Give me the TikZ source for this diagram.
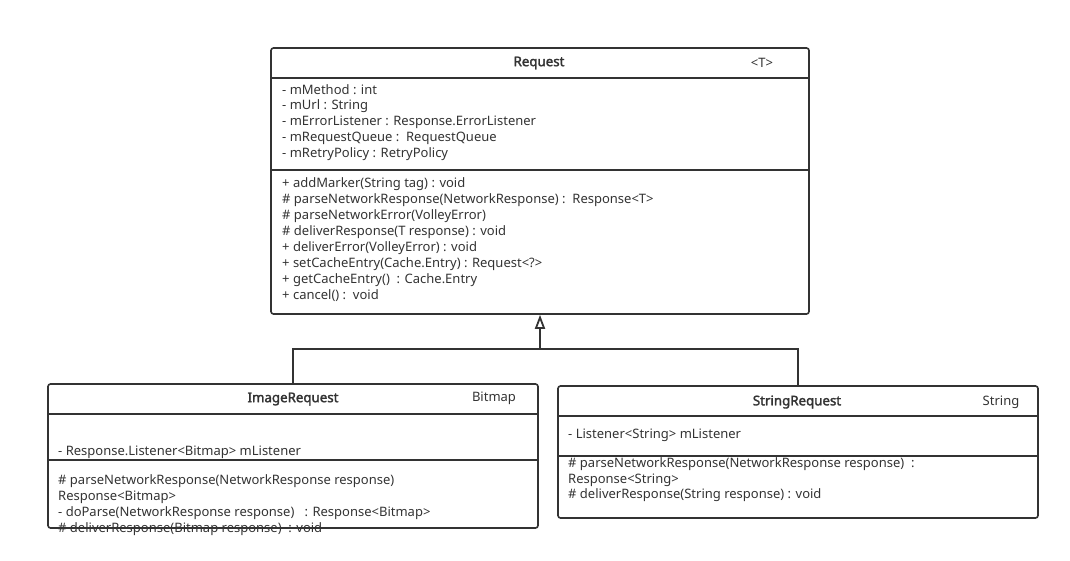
\documentclass[tikz,border=0pt]{standalone}
\usepackage{fontspec}
\setmainfont{Noto Sans}
\newfontfamily\titlefont{Noto Sans}[FakeBold=2.2]
\usetikzlibrary{arrows.meta}

\definecolor{umlline}{HTML}{333333}

\begin{document}
\begin{tikzpicture}[x=1pt, y=-1pt,
    umlbox/.style={draw=umlline, line width=1.6pt, rounded corners=2.5pt, inner sep=0pt},
    member/.style={anchor=west, inner sep=0pt, text=umlline, font=\fontsize{13}{15}\selectfont},
    title/.style={inner sep=0pt, text=umlline, font=\titlefont\fontsize{13.3}{15}\selectfont},
    tparam/.style={inner sep=0pt, text=umlline, font=\fontsize{13}{15}\selectfont}]
        \useasboundingbox (0,0) rectangle (1070,560);
        \def \step {16}

        % Request
        \node[umlbox, minimum width=538pt, minimum height=266pt] (req) at (540,181) {};
        \node[title] (reqname) at (539,63) {Request};
        \node[tparam] (reqT) at (762,63) {<T>};
        \draw[umlline, line width=1.4pt] (req.west |- 0,78) -- (req.east |- 0,78);
        \draw[umlline, line width=1.4pt] (req.west |- 0,170) -- (req.east |- 0,170);
        \foreach \txt [count=\i from 0] in {{- mMethod : int}, {- mUrl : String},
            {- mErrorListener : Response.ErrorListener}, {- mRequestQueue :\ \ RequestQueue},
            {- mRetryPolicy : RetryPolicy}}
          \node[member] (reqa\i) at (282,90+\i*\step) {\txt};
        \foreach \txt [count=\i from 0] in {{+ addMarker(String tag) : void},
            {\# parseNetworkResponse(NetworkResponse) :\ \ Response<T>},
            {\# parseNetworkError(VolleyError)}, {\# deliverResponse(T response) : void},
            {+ deliverError(VolleyError) : void}, {+ setCacheEntry(Cache.Entry) : Request<?>},
            {+ getCacheEntry()\ \ : Cache.Entry}, {+ cancel() :\ \ void}}
          \node[member] (reqm\i) at (282,184+\i*\step) {\txt};

        % ImageRequest
        \node[umlbox, minimum width=490pt, minimum height=144pt] (img) at (293,456) {};
        \node[title] (imgname) at (293,399) {ImageRequest};
        \node[tparam] (imgT) at (494,398) {Bitmap};
        \draw[umlline, line width=1.4pt] (img.west |- 0,414) -- (img.east |- 0,414);
        \draw[umlline, line width=1.4pt] (img.west |- 0,460) -- (img.east |- 0,460);
        \node[member] (imga0) at (58,452) {- Response.Listener<Bitmap>\ mListener};
        \foreach \txt [count=\i from 0] in {{\# parseNetworkResponse(NetworkResponse response)},
            {Response<Bitmap>}, {- doParse(NetworkResponse response)\ \ \ : Response<Bitmap>},
            {\# deliverResponse(Bitmap response)\ \ : void}}
          \node[member] (imgm\i) at (58,481+\i*\step) {\txt};

        % StringRequest
        \node[umlbox, minimum width=480pt, minimum height=132pt] (str) at (798,452) {};
        \node[title] (strname) at (797,402) {StringRequest};
        \node[tparam] (strT) at (1001,402) {String};
        \draw[umlline, line width=1.4pt] (str.west |- 0,416) -- (str.east |- 0,416);
        \draw[umlline, line width=1.4pt] (str.west |- 0,456) -- (str.east |- 0,456);
        \node[member] (stra0) at (568,435) {- Listener<String>\ mListener};
        \node[member] (strm0) at (568,464) {\# parseNetworkResponse(NetworkResponse response)\ \ :};
        \node[member] (strm1) at (568,480) {Response<String>};
        \node[member] (strm2) at (568,495) {\# deliverResponse(String response) : void};

        % generalization
        \coordinate (fork) at (540,349);
        \draw[umlline, line width=1.6pt] (img.north) |- (fork) -| (str.north);
        \draw[umlline, line width=1.8pt, -{Triangle[open, length=14pt, width=10pt]}] (fork) -- (req.south);
      \end{tikzpicture}
\end{document}
